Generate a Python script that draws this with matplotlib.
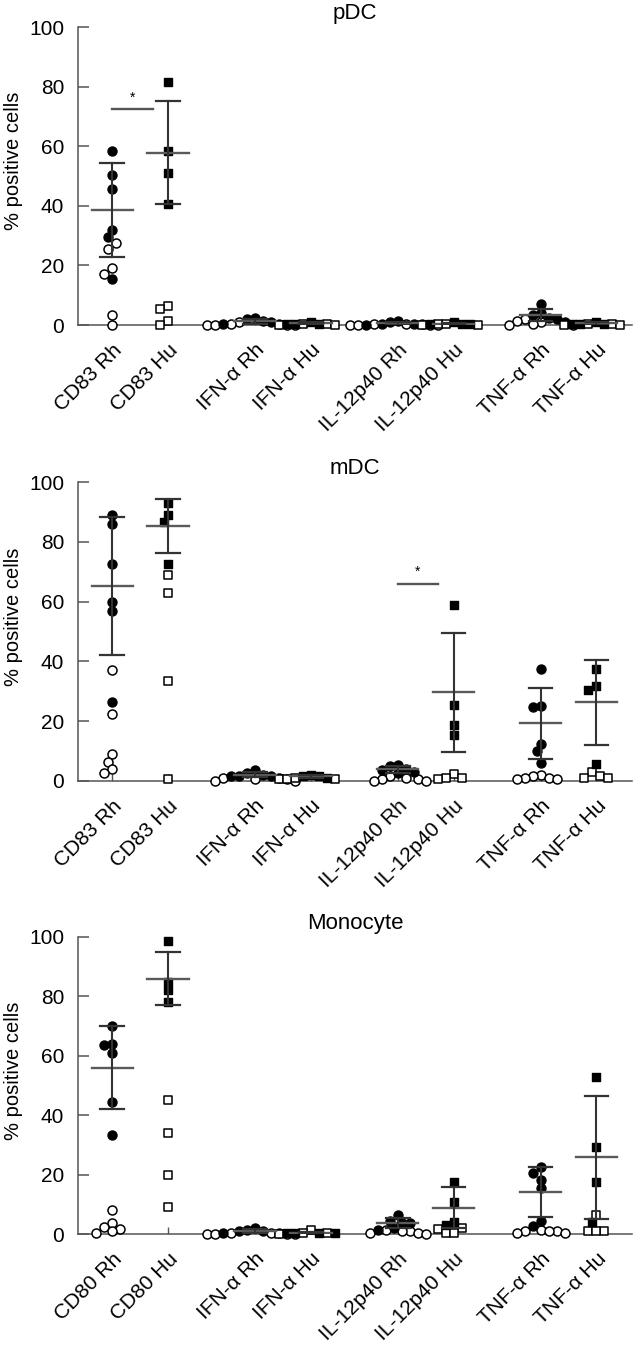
import numpy as np
import matplotlib
matplotlib.use('Agg')
import matplotlib.pyplot as plt

plt.rcParams['font.family'] = ['Liberation Sans', 'DejaVu Sans']

# categories
labels_dc = ['CD83 Rh', 'CD83 Hu', 'IFN-α Rh', 'IFN-α Hu',
             'IL-12p40 Rh', 'IL-12p40 Hu', 'TNF-α Rh', 'TNF-α Hu']
labels_mono = ['CD80 Rh', 'CD80 Hu', 'IFN-α Rh', 'IFN-α Hu',
               'IL-12p40 Rh', 'IL-12p40 Hu', 'TNF-α Rh', 'TNF-α Hu']

# pDC (filled = stimulated, open = unstimulated)
pdc_filled = [
    [58.5, 50.5, 45.5, 32, 29.5, 15.5],
    [81.5, 58.5, 51, 40.5],
    [2.5, 2, 1.5, 1, 0.5, 0.5],
    [1, 0.5, 0.5, 0.2],
    [1.5, 1, 0.5, 0.5, 0.2, 0.1],
    [1, 0.5, 0.3, 0.2],
    [7, 4, 3.5, 2.5, 2, 1],
    [1, 0.5, 0.4, 0.2],
]
pdc_open = [
    [27.5, 25.5, 19, 17, 3.5, 0],
    [6.5, 5.5, 1.5, 0],
    [1, 0.5, 0, 0, 0, 0],
    [0.5, 0.2, 0, 0],
    [0.5, 0.2, 0, 0, 0, 0],
    [0.5, 0.3, 0, 0],
    [2, 1.5, 1, 0.5, 0, 0],
    [0.5, 0.2, 0, 0],
]

# mDC
mdc_filled = [
    [89, 86, 72.5, 60, 57, 26.5],
    [93, 89, 86.5, 72.5],
    [3.5, 2.5, 2, 1.5, 1.5, 1.5],
    [2, 1.5, 1.5, 1],
    [5.5, 5, 4, 3.5, 3, 2.5],
    [58.8, 25.5, 18.6, 15.5],
    [37.5, 25, 24.7, 12.5, 10, 6],
    [37.5, 31.7, 30.3, 5.6],
]
mdc_open = [
    [37, 22.5, 9, 6.4, 4, 2.5],
    [69, 63, 33.5, 0.5],
    [1, 1, 0.5, 0.5, 0, 0],
    [1, 0.5, 0.5, 0.5],
    [1.5, 1, 0.5, 0.5, 0, 0],
    [2.3, 1, 1, 0.8],
    [2, 1.5, 1, 1, 0.5, 0.5],
    [3, 1.5, 1, 1],
]

# Monocyte
mono_filled = [
    [70, 64, 63.5, 61, 44.5, 33.3],
    [98.5, 85, 82.3, 78],
    [2, 1.5, 1, 1, 0.5, 0.5],
    [0.5, 0.5, 0.3, 0.2],
    [6.4, 4.5, 3.8, 3.7, 2, 1.5],
    [17.6, 10.9, 3.9, 3],
    [22.7, 20.4, 18.2, 15.4, 4.5, 2.7],
    [52.8, 29.2, 17.6, 3.9],
]
mono_open = [
    [8, 3.8, 2.5, 1.6, 1.1, 0.2],
    [45, 34, 20, 9],
    [0.5, 0.5, 0, 0, 0, 0],
    [1.5, 0.5, 0.3, 0],
    [1.5, 1, 1, 0.5, 0.5, 0],
    [2, 1.7, 0.3, 0.3],
    [1.5, 1, 1, 0.5, 0.5, 1],
    [6.5, 1, 1, 1],
]

# significance bars: (category index, height)
sig_pdc = [(0, 72.5)]
sig_mdc = [(4, 66)]
sig_mono = []

xpos = [0, 1, 2.55, 3.55, 5.1, 6.1, 7.65, 8.65]


def swarm(vals, sx, sy, d):
    # simple beeswarm in pixel space, returns x offsets in data units
    order = np.argsort(vals, kind='stable')[::-1]
    placed = []
    offs = np.zeros(len(vals))
    cands = [0.0]
    for i in range(1, 40):
        cands += [-i * d * 0.5, i * d * 0.5]
    for j in order:
        y = vals[j] * sy
        for c in cands:
            if all((c - px) ** 2 + (y - py) ** 2 >= d ** 2 for px, py in placed):
                break
        placed.append((c, y))
        offs[j] = c / sx
    return offs


def panel(ax, title, labels, filled, opn, sig):
    ax.set_xlim(-0.61, 9.29)
    ax.set_ylim(0, 100)
    bb = ax.get_window_extent()
    sx = bb.width / 9.9
    sy = bb.height / 100.0
    for i, x in enumerate(xpos):
        mk = 'o' if i % 2 == 0 else 's'
        sz = 42 if mk == 'o' else 36
        f = np.array(filled[i], float)
        o = np.array(opn[i], float)
        allv = np.concatenate([f, o])
        offs = swarm(allv, sx, sy, 8.0)
        ax.scatter(x + offs[len(f):], o, s=sz, marker=mk,
                   facecolor='white', edgecolor='black', linewidths=1.1,
                   zorder=3, clip_on=False)
        ax.scatter(x + offs[:len(f)], f, s=sz, marker=mk,
                   facecolor='black', edgecolor='black', linewidths=1.0,
                   zorder=3, clip_on=False)
        m = f.mean()
        sd = f.std(ddof=1)
        ax.plot([x - 0.37, x + 0.37], [m, m], color='#5a5a5a', lw=1.7, zorder=4)
        ax.plot([x, x], [m - sd, m + sd], color='#333333', lw=1.5, zorder=4)
        for yy in (m - sd, m + sd):
            ax.plot([x - 0.21, x + 0.21], [yy, yy], color='#333333', lw=1.6, zorder=4)
    for i, h in sig:
        ax.plot([xpos[i], xpos[i] + 0.72], [h, h], color='#555555', lw=1.7)
        ax.text(xpos[i] + 0.36, h + 1.5, '*', ha='center', va='bottom', fontsize=10)

    for s in ('top', 'right'):
        ax.spines[s].set_visible(False)
    for s in ('left', 'bottom'):
        ax.spines[s].set_color('#555555')
        ax.spines[s].set_linewidth(1.1)
    ax.set_yticks([0, 20, 40, 60, 80, 100])
    ax.tick_params(axis='y', direction='in', length=8, width=1.1, color='#555555',
                   labelsize=15, pad=10)
    ax.set_xticks(xpos)
    ax.set_xticklabels(labels, rotation=45, ha='right', rotation_mode='anchor',
                       fontsize=15)
    ax.tick_params(axis='x', direction='in', length=5, width=1.0, color='#555555', pad=11)
    ax.set_ylabel('% positive cells', fontsize=14.5)
    ax.yaxis.set_label_coords(-0.10, 0.55)
    ax.set_title(title, fontsize=16, pad=6)


fig = plt.figure(figsize=(6.4, 13.46), dpi=100)
ax1 = fig.add_axes([0.122, 0.7585, 0.866, 0.2214])
ax2 = fig.add_axes([0.122, 0.4198, 0.866, 0.2221])
ax3 = fig.add_axes([0.122, 0.0832, 0.866, 0.2207])

panel(ax1, 'pDC', labels_dc, pdc_filled, pdc_open, sig_pdc)
panel(ax2, 'mDC', labels_dc, mdc_filled, mdc_open, sig_mdc)
panel(ax3, 'Monocyte', labels_mono, mono_filled, mono_open, sig_mono)

fig.savefig('out.png', dpi=100)
